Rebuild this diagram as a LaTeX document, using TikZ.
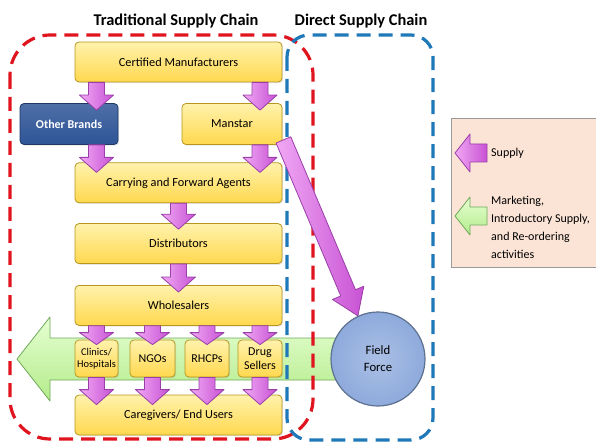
\documentclass[tikz,border=0pt]{standalone}
\usepackage{fontspec}
\setmainfont{Carlito}
\usetikzlibrary{calc,positioning,shadows,backgrounds}

\definecolor{boxtop}{HTML}{FFF2AC}
\definecolor{boxbot}{HTML}{FFD84E}
\definecolor{boxline}{HTML}{B8961E}
\definecolor{brandblue}{HTML}{2F5597}
\definecolor{brandline}{HTML}{1F3864}
\definecolor{supplylight}{HTML}{F0A8F4}
\definecolor{supplydark}{HTML}{C852D4}
\definecolor{supplyline}{HTML}{9A3FA8}
\definecolor{marketlight}{HTML}{E6FFD2}
\definecolor{marketdark}{HTML}{B3EB8A}
\definecolor{marketline}{HTML}{6FA85A}
\definecolor{forcefill}{HTML}{8EAADC}
\definecolor{forceline}{HTML}{5E7190}
\definecolor{tradred}{HTML}{E0141E}
\definecolor{directblue}{HTML}{1F78B8}
\definecolor{legendfill}{HTML}{FBE4D6}

% block arrow: [style]{start}{tip}{shaft half width}{head half width}{head length}
\newcommand{\blockarrow}[6][]{%
  \coordinate (ba-s) at (#2);
  \coordinate (ba-e) at (#3);
  \coordinate (ba-h) at ($(ba-e)!#6!(ba-s)$);
  \draw[#1] ($(ba-s)!#4!90:(ba-e)$) -- ($(ba-h)!#4!90:(ba-e)$)
    -- ($(ba-h)!#5!90:(ba-e)$) -- (ba-e) -- ($(ba-h)!#5!-90:(ba-e)$)
    -- ($(ba-h)!#4!-90:(ba-e)$) -- ($(ba-s)!#4!-90:(ba-e)$) -- cycle;}

\begin{document}
\begin{tikzpicture}[
  x=1pt, y=-1pt,
  box/.style={draw=boxline, line width=0.8pt, rounded corners=4pt,
              top color=boxtop, bottom color=boxbot, align=center,
              minimum height=40pt, font=\fontsize{12.3}{14}\selectfont,
              drop shadow={opacity=0.2, shadow xshift=1.2pt, shadow yshift=-1.2pt}},
  wide/.style={box, minimum width=207pt},
  outlet/.style={box, minimum width=44pt, minimum height=37pt, inner sep=1pt,
                 font=\fontsize{12}{13.5}\selectfont},
  supply/.style={draw=supplyline, line width=0.8pt, line join=round,
                 left color=supplylight, right color=supplydark},
  market/.style={draw=marketline, line width=0.8pt, line join=round,
                 top color=marketlight, bottom color=marketdark},
  zone/.style={line width=3.2pt, dash pattern=on 14pt off 8pt},
  title/.style={font=\bfseries\fontsize{16.4}{18}\selectfont}
]
  \useasboundingbox (0,0) rectangle (596,443);

  % the two chains
  \draw[zone, tradred, rounded corners=40pt] (10,35) rectangle (313,439);
  \draw[zone, directblue, rounded corners=22pt] (287,35) rectangle (433,440);
  \node[title] (trad) at (176,21) {Traditional Supply Chain};
  \node[title] (direct) at (361,21) {Direct Supply Chain};

  % nodes
  \node[wide] (cm) at (178.5,62) {Certified Manufacturers};
  \node[box, minimum width=98pt, minimum height=41pt, draw=brandline,
        top color=brandblue!85, bottom color=brandblue, text=white,
        font=\bfseries\fontsize{12}{14}\selectfont] (ob) at (69,124) {Other Brands};
  \node[box, minimum width=100pt, minimum height=41pt] (ms) at (232,124) {Manstar};
  \node[wide, below=80pt of cm] (cfa) {Carrying and Forward Agents};
  \node[wide, below=20pt of cfa] (dist) {Distributors};
  \node[wide, below=21pt of dist] (wh) {Wholesalers};
  \node[outlet, minimum width=43pt, font=\fontsize{10.4}{12.5}\selectfont] (c1) at (96.5,358.5) {Clinics/\\Hospitals};
  \node[outlet, minimum width=45pt] (c2) at (152.5,358.5) {NGOs};
  \node[outlet] (c3) at (207,358.5) {RHCPs};
  \node[outlet] (c4) at (260,358.5) {Drug\\Sellers};
  \node[wide] (cg) at (178.5,415) {Caregivers/ End Users};
  \node[circle, minimum size=94pt, draw=forceline, line width=1.2pt,
        inner color=forcefill!75, outer color=forcefill, align=center,
        font=\fontsize{12.7}{17}\selectfont] (ff) at (378,359) {Field\\Force};

  % marketing flow behind the outlets
  \begin{scope}[on background layer]
    \coordinate (mk) at (17,359);
    \blockarrow[market]{ff.center}{mk}{21pt}{42pt}{33pt}
  \end{scope}

  % supply arrows
  \blockarrow[supply]{cm.south -| c1}{$(ob.north -| c1)+(0,7)$}{8pt}{17pt}{15pt}
  \blockarrow[supply]{cm.south -| c4}{$(ms.north -| c4)+(0,7)$}{8pt}{17pt}{15pt}
  \blockarrow[supply]{ob.south -| c1}{$(cfa.north -| c1)+(0,10)$}{8pt}{17pt}{15pt}
  \blockarrow[supply]{ms.south -| c4}{$(cfa.north -| c4)+(0,10)$}{8pt}{17pt}{15pt}
  \blockarrow[supply]{cfa.south}{$(dist.north)+(0,6)$}{8pt}{17pt}{15pt}
  \blockarrow[supply]{dist.south}{$(wh.north)+(0,7)$}{8pt}{17pt}{15pt}
  \foreach \c in {c1,c2,c3,c4}{
    \blockarrow[supply]{wh.south -| \c}{$(\c.north)+(0,5)$}{8pt}{17pt}{12pt}
    \blockarrow[supply]{\c.south}{$(cg.north -| \c)+(0,10)$}{8pt}{17pt}{15pt}
  }
  \blockarrow[supply]{$(ms.south east)+(1,-5)$}{ff.115}{8pt}{17pt}{25pt}

  % legend
  \draw[draw=black!40, fill=legendfill] (451,118) rectangle (597,267);
  \coordinate (ls1) at (487,153);
  \coordinate (le1) at (455,153);
  \coordinate (ls2) at (487,216);
  \coordinate (le2) at (455,216);
  \blockarrow[supply]{ls1}{le1}{9pt}{19pt}{15pt}
  \blockarrow[market]{ls2}{le2}{9pt}{19pt}{15pt}
  \node[anchor=west, inner sep=2pt, font=\fontsize{12}{14}\selectfont] (lsup) at (489,153) {Supply};
  \node[anchor=north west, inner sep=2pt, align=left, font=\fontsize{12}{18}\selectfont]
    (lmkt) at (489,194) {Marketing,\\Introductory Supply,\\and Re-ordering\\activities};
\end{tikzpicture}
\end{document}
